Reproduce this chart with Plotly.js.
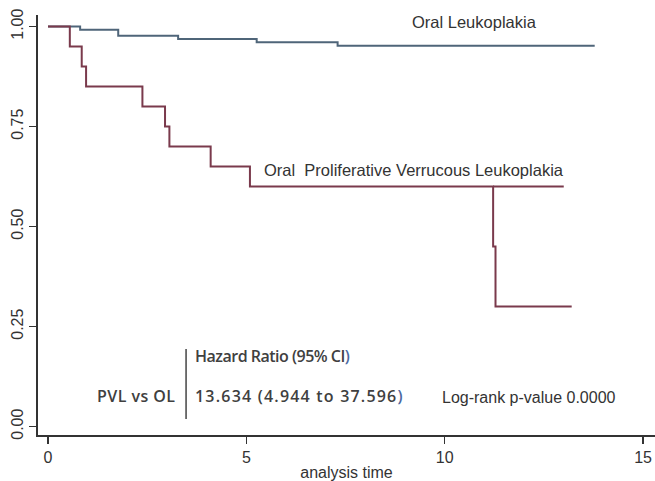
<!DOCTYPE html>
<html>
<head>
<meta charset="utf-8">
<script src="https://cdn.plot.ly/plotly-3.0.1.min.js"></script>
<style>
html,body{margin:0;padding:0;background:#fff;}
#chart{width:655px;height:481px;}
g.annotation[data-index="2"] text{letter-spacing:-0.5px;}
g.annotation[data-index="3"] text{letter-spacing:0.45px;}
g.annotation[data-index="4"] text{letter-spacing:1.2px;}
</style>
</head>
<body>
<div id="chart"></div>
<script>
// Oral Leukoplakia (OL) Kaplan-Meier estimate
const olTime = [0, 0.81, 1.77, 3.28, 5.26, 7.30, 13.78];
const olSurv = [1.00, 0.992, 0.977, 0.969, 0.961, 0.952, 0.952];
// Proliferative Verrucous Leukoplakia (PVL) Kaplan-Meier estimate
const pvlTime = [0, 0.55, 0.85, 0.96, 2.38, 2.95, 3.06, 4.10, 5.09, 11.22, 11.28, 13.20];
const pvlSurv = [1.00, 0.95, 0.90, 0.85, 0.80, 0.75, 0.70, 0.65, 0.60, 0.45, 0.30, 0.30];
// the 0.60 plateau as drawn continues past the drop
const pvlPlateauTime = [11.22, 13.00];
const pvlPlateauSurv = [0.60, 0.60];

const xTicks = [0, 5, 10, 15];
const yTicks = [0, 0.25, 0.5, 0.75, 1];
const yTickText = ['0.00', '0.25', '0.50', '0.75', '1.00'];

const olColor = '#4f6579';
const pvlColor = '#7a3a4c';

const traces = [
  {x: olTime, y: olSurv, mode: 'lines', line: {shape: 'hv', color: olColor, width: 2}, hoverinfo: 'skip'},
  {x: pvlTime, y: pvlSurv, mode: 'lines', line: {shape: 'hv', color: pvlColor, width: 2}, hoverinfo: 'skip'},
  {x: pvlPlateauTime, y: pvlPlateauSurv, mode: 'lines', line: {color: pvlColor, width: 2}, hoverinfo: 'skip'}
];

const sans = 'Liberation Sans, Arial, sans-serif';
const labelFont = {family: sans, size: 16.5, color: '#333'};
const tableFont = {family: 'Open Sans, sans-serif', size: 16, weight: 600, color: '#404040'};
const blue = '<span style="color:#4b68a0">)</span>';

const layout = {
  width: 655, height: 481,
  margin: {l: 38, r: 0, t: 15, b: 46, pad: 0},
  paper_bgcolor: '#fff', plot_bgcolor: '#fff',
  showlegend: false,
  xaxis: {
    range: [-0.252, 15.3], tickvals: xTicks, ticktext: xTicks.map(String),
    showgrid: false, zeroline: false, showline: true, linecolor: '#333', linewidth: 2,
    ticks: 'outside', ticklen: 7, tickwidth: 1.5, tickcolor: '#333',
    tickfont: {family: sans, size: 16, color: '#333'},
    title: {text: 'analysis time', font: {family: sans, size: 16, color: '#333'}, standoff: 4}
  },
  yaxis: {
    range: [-0.021, 1.029], tickvals: yTicks, ticktext: yTickText, tickangle: -90,
    showgrid: false, zeroline: false, showline: true, linecolor: '#333', linewidth: 2,
    ticks: 'outside', ticklen: 7, tickwidth: 1.5, tickcolor: '#333',
    tickfont: {family: sans, size: 16, color: '#333'}
  },
  annotations: [
    {x: 9.13, y: 1.012, xref: 'x', yref: 'y', text: 'Oral Leukoplakia', showarrow: false, xanchor: 'left', yanchor: 'middle', font: labelFont},
    {x: 5.39, y: 0.642, xref: 'x', yref: 'y', text: 'Oral  Proliferative Verrucous Leukoplakia', showarrow: false, xanchor: 'left', yanchor: 'middle', font: labelFont},
    {x: 3.655, y: 0.177, xref: 'x', yref: 'y', text: 'Hazard Ratio (95% CI' + blue, showarrow: false, xanchor: 'left', align: 'left', yanchor: 'middle', font: tableFont},
    {x: 1.185, y: 0.077, xref: 'x', yref: 'y', text: 'PVL vs OL', showarrow: false, xanchor: 'left', align: 'left', yanchor: 'middle', font: tableFont},
    {x: 3.655, y: 0.077, xref: 'x', yref: 'y', text: '13.634 (4.944 to 37.596' + blue, showarrow: false, xanchor: 'left', align: 'left', yanchor: 'middle', font: tableFont},
    {x: 9.88, y: 0.072, xref: 'x', yref: 'y', text: 'Log-rank p-value 0.0000', showarrow: false, xanchor: 'left', yanchor: 'middle', font: {family: sans, size: 16, color: '#333'}}
  ],
  shapes: [
    {type: 'line', xref: 'x', yref: 'y', x0: 3.48, x1: 3.48, y0: 0.019, y1: 0.194, line: {color: '#444', width: 1.5}}
  ]
};

Plotly.newPlot('chart', traces, layout, {staticPlot: true, displayModeBar: false});
</script>
</body>
</html>
